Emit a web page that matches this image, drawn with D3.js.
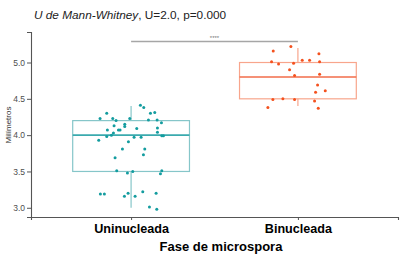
<!DOCTYPE html>
<html>
<head>
<meta charset="utf-8">
<title>Mann-Whitney</title>
<style>
  body { margin: 0; background: #fff; }
  text { font-family: "Liberation Sans", Arial, sans-serif; }
  .tick text { fill: #4d4d4d; font-size: 8.5px; }
  .xax .tick text { fill: #000; font-size: 12.6px; font-weight: bold; }
</style>
<script src="https://d3js.org/d3.v7.min.js"></script>
</head>
<body>
<script>
// data
var categories = ["Uninucleada", "Binucleada"];
var yTicks = [3.0, 3.5, 4.0, 4.5, 5.0];
// box stats: [lowWhisker, q1, median, q3, highWhisker]
var boxUni = [3.0, 3.5, 4.0, 4.2, 4.4];
var boxBin = [4.4, 4.5, 4.8, 5.0, 5.2];
// points: value and horizontal jitter (in category units)
var uniValues = [4.23, 4.30, 4.23, 4.20, 4.13, 4.07, 4.07, 4.03, 4.00, 3.98, 3.93, 4.07,
                 4.15, 4.12, 4.23, 3.91, 3.81, 3.69, 3.97, 4.09, 3.97, 4.41, 4.38, 4.21,
                 4.30, 4.31, 4.21, 4.17, 4.10, 4.04, 3.99, 3.99, 3.81, 3.73, 3.51, 3.48,
                 3.50, 3.51, 3.47, 3.19, 3.19, 3.16, 3.20, 3.16, 3.22, 3.20, 3.01, 2.98];
var uniJitter = [-0.186, -0.146, -0.110, -0.090, -0.102, -0.076, -0.142, -0.106, -0.118, -0.146, -0.194, -0.066,
                 -0.038, -0.038, -0.008, -0.016, -0.052, -0.096, 0.018, 0.034, 0.060, 0.056, 0.076, 0.104,
                 0.116, 0.142, 0.156, 0.182, 0.158, 0.158, 0.184, 0.194, 0.082, 0.074, -0.086, -0.022,
                 0.010, 0.184, 0.176, -0.184, -0.160, -0.040, -0.018, 0.024, 0.070, 0.150, 0.110, 0.154];
var binValues = [5.22, 5.16, 5.12, 5.01, 4.98, 4.99, 5.03, 5.03, 5.01, 4.90, 4.82,
                 4.84, 4.69, 4.59, 4.61, 4.49, 4.50, 4.49, 4.47, 4.38, 4.37];
var binJitter = [-0.042, -0.148, 0.126, -0.158, -0.116, -0.026, 0.026, 0.070, 0.130, -0.050, -0.020,
                 0.130, 0.118, 0.106, 0.164, -0.150, -0.090, -0.020, 0.100, -0.180, 0.122];
var sigBarValue = 5.29;

var width = 403, height = 258;
var margin = {left: 31, right: 5, top: 32, bottom: 41};
var svg = d3.select("body").append("svg")
    .attr("width", width).attr("height", height);

var y = d3.scaleLinear().domain([2.873, 5.42])
    .range([height - margin.bottom, margin.top]);
// discrete axis with ggplot-like 0.6 expansion
var x = d3.scaleLinear().domain([0.4, 2.6]).range([margin.left, width - margin.right]);
var xCat = function(name) { return x(categories.indexOf(name) + 1); };

var colPoint = ["#139c9f", "#f4511e"];
var colBox = ["#86c6c9", "#f8a58c"];
var colMed = ["#3aaaae", "#f26c4a"];

// axes
svg.append("g").attr("class", "yax")
    .attr("transform", "translate(" + margin.left + ",0)")
    .call(d3.axisLeft(y).tickValues(yTicks).tickFormat(d3.format(".1f")).tickSize(4).tickPadding(2));
svg.append("g").attr("class", "xax")
    .attr("transform", "translate(0," + (height - margin.bottom) + ")")
    .call(d3.axisBottom(x).tickValues([1, 2]).tickFormat(function(d) { return categories[d - 1]; })
          .tickSize(3).tickPadding(4));
svg.selectAll(".domain").attr("stroke", "#555").attr("stroke-width", 1.1);
svg.selectAll(".tick line").attr("stroke", "#555");

// boxes
var boxW = 0.7 * (x(2) - x(1));
var boxes = [boxUni, boxBin];
boxes.forEach(function(b, i) {
  var cx = xCat(categories[i]);
  var g = svg.append("g");
  g.append("line").attr("x1", cx).attr("x2", cx).attr("y1", y(b[0])).attr("y2", y(b[1]))
    .attr("stroke", colBox[i]).attr("stroke-width", 1.2);
  g.append("line").attr("x1", cx).attr("x2", cx).attr("y1", y(b[3])).attr("y2", y(b[4]))
    .attr("stroke", colBox[i]).attr("stroke-width", 1.2);
  g.append("rect").attr("x", cx - boxW / 2).attr("y", y(b[3]))
    .attr("width", boxW).attr("height", y(b[1]) - y(b[3]))
    .attr("fill", "none").attr("stroke", colBox[i]).attr("stroke-width", 1.2);
  g.append("line").attr("x1", cx - boxW / 2).attr("x2", cx + boxW / 2)
    .attr("y1", y(b[2])).attr("y2", y(b[2]))
    .attr("stroke", colMed[i]).attr("stroke-width", 1.6);
});

// jittered points
var pts = [];
uniValues.forEach(function(v, i) { pts.push({c: 0, v: v, j: uniJitter[i]}); });
binValues.forEach(function(v, i) { pts.push({c: 1, v: v, j: binJitter[i]}); });
svg.append("g").selectAll("circle").data(pts).enter().append("circle")
    .attr("cx", function(d) { return x(d.c + 1 + d.j); })
    .attr("cy", function(d) { return y(d.v); })
    .attr("r", 1.5)
    .attr("fill", function(d) { return colPoint[d.c]; });

// significance bar
svg.append("line").attr("x1", x(1)).attr("x2", x(2))
    .attr("y1", y(sigBarValue)).attr("y2", y(sigBarValue))
    .attr("stroke", "#a6a6a6").attr("stroke-width", 1.4);
svg.append("text").attr("x", (x(1) + x(2)) / 2).attr("y", y(sigBarValue) - 1.5)
    .attr("text-anchor", "middle").attr("font-size", "6px").attr("fill", "#777")
    .text("****");

// titles
var title = svg.append("text").attr("x", 34).attr("y", 19).attr("font-size", "11.8px").attr("fill", "#222");
title.append("tspan").attr("font-style", "italic").text("U de Mann-Whitney");
title.append("tspan").text(", U=2.0, p=0.000");

svg.append("text").attr("transform", "translate(11,125) rotate(-90)")
    .attr("text-anchor", "middle").attr("font-size", "8px").attr("fill", "#333")
    .text("Milímetros");

svg.append("text").attr("x", 221).attr("y", 251)
    .attr("text-anchor", "middle").attr("font-size", "13px").attr("font-weight", "bold")
    .text("Fase de microspora");
</script>
</body>
</html>
